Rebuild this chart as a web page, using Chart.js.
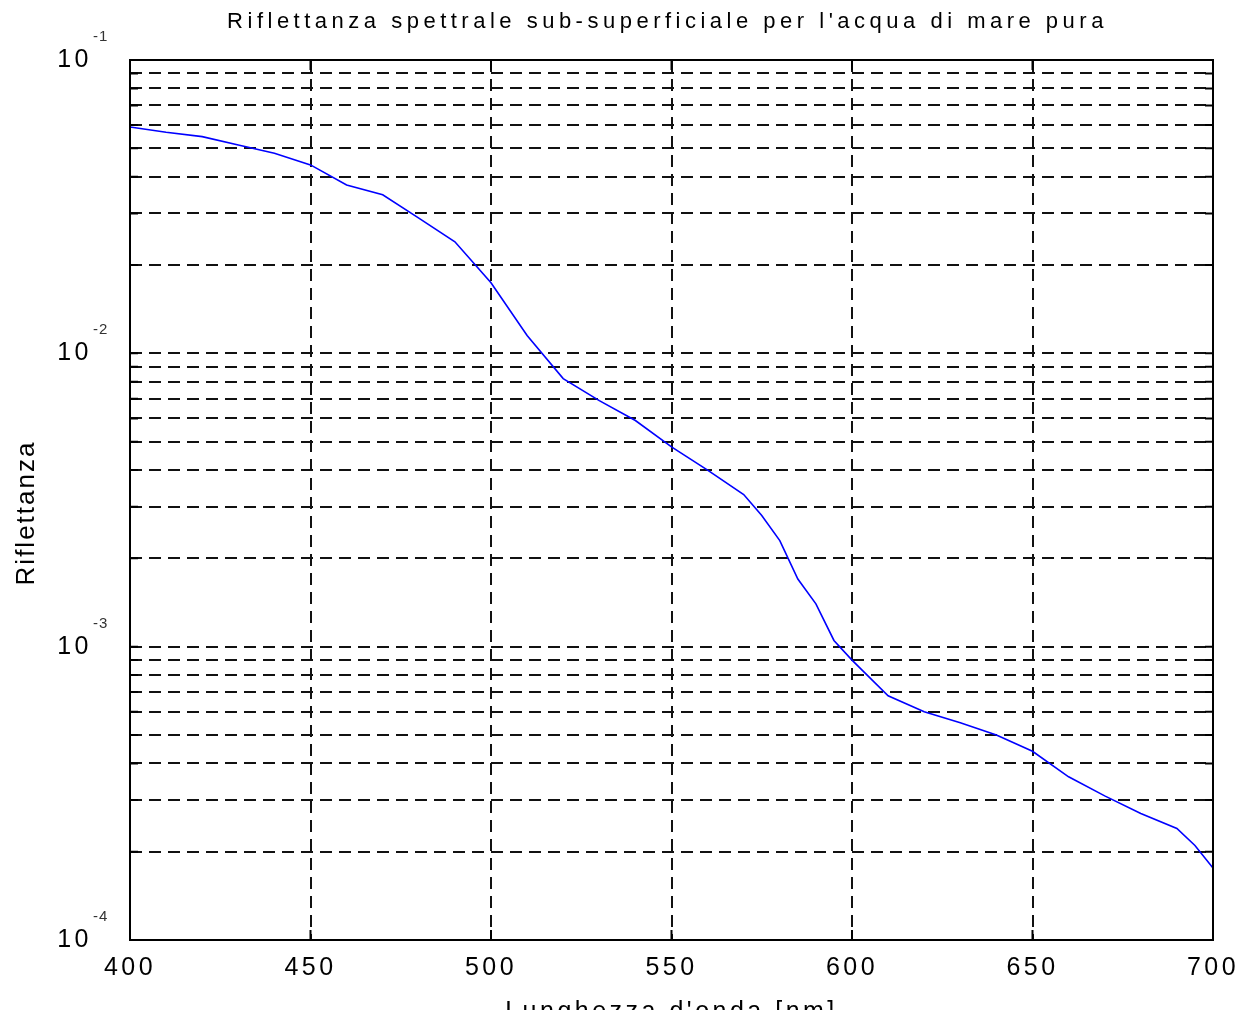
<!DOCTYPE html>
<html lang="it">
  <head>
    <meta charset="UTF-8" />
    <title>Riflettanza spettrale</title>
    <script src="https://cdn.jsdelivr.net/npm/chart.js"></script>
    <style>
      html, body {
        margin: 0;
        padding: 0;
        background: #fff;
        overflow: hidden;
      }
      .wrap {
        position: relative;
        width: 1240px;
        height: 1040px;
      }
    </style>
  </head>
  <body>
    <div class="wrap">
      <canvas id="chart"></canvas>
    </div>

    <script>
      // wavelength [nm] and sub-surface reflectance
      const wavelengths = [
        400, 410, 420, 430, 440, 450, 460, 470, 480, 490, 500, 510, 520, 530,
        540, 550, 560, 570, 575, 580, 585, 590, 595, 600, 610, 620, 630, 640,
        650, 660, 670, 680, 690, 695, 700,
      ];
      const reflectance = [
        0.0591, 0.0567, 0.0548, 0.0513, 0.0481, 0.0439, 0.0375, 0.0347, 0.0289,
        0.024, 0.0174, 0.0115, 0.0082, 0.0069, 0.0059, 0.0048, 0.004, 0.0033,
        0.0028, 0.0023, 0.0017, 0.0014, 0.00105, 0.0009, 0.00068, 0.0006,
        0.00055, 0.0005, 0.00044, 0.00036, 0.00031, 0.00027, 0.00024, 0.00021,
        0.000176,
      ];
      const xTicks = [400, 450, 500, 550, 600, 650, 700];
      const yDecades = [1e-1, 1e-2, 1e-3, 1e-4];
      const yExponents = ["-1", "-2", "-3", "-4"];
      // every minor log step gets a dashed line
      const yGrid = [];
      [1e-4, 1e-3, 1e-2].forEach((d) => {
        for (let m = 1; m < 10; m++) yGrid.push(+(m * d).toPrecision(3));
      });
      yGrid.push(1e-1);

      const titleText = "Riflettanza spettrale sub-superficiale per l'acqua di mare pura";
      const yTitleText = "Riflettanza";

      const LS = "3.5px";
      const FONT = "Liberation Sans, Arial, sans-serif";

      const matlabLook = {
        id: "matlabLook",
        beforeLayout(chart) {
          chart.ctx.letterSpacing = LS;
        },
        beforeDraw(chart) {
          chart.ctx.letterSpacing = LS;
        },
        afterDraw(chart) {
          const ctx = chart.ctx;
          const { left, right, top, bottom } = chart.chartArea;
          const xs = chart.scales.x;
          const ys = chart.scales.y;
          ctx.save();
          ctx.strokeStyle = "#000";
          ctx.lineWidth = 2;
          ctx.setLineDash([]);
          ctx.strokeRect(left, top, right - left, bottom - top);

          // inward tick marks on all four sides
          ctx.lineWidth = 2;
          ctx.beginPath();
          xTicks.forEach((v) => {
            const px = xs.getPixelForValue(v);
            ctx.moveTo(px, bottom);
            ctx.lineTo(px, bottom - 10);
            ctx.moveTo(px, top);
            ctx.lineTo(px, top + 10);
          });
          yGrid.forEach((v) => {
            const py = ys.getPixelForValue(v);
            ctx.moveTo(left, py);
            ctx.lineTo(left + 8, py);
            ctx.moveTo(right, py);
            ctx.lineTo(right - 8, py);
          });
          ctx.stroke();

          ctx.fillStyle = "#000";
          ctx.textBaseline = "middle";

          // title, centred over the plot box
          ctx.letterSpacing = "4.5px";
          ctx.font = "22px " + FONT;
          ctx.textAlign = "center";
          ctx.fillText(titleText, (left + right) / 2 - 4, 22);

          // y axis title
          ctx.save();
          ctx.translate(27, (top + bottom) / 2 + 13);
          ctx.rotate(-Math.PI / 2);
          ctx.letterSpacing = "2px";
          ctx.font = "26px " + FONT;
          ctx.fillText(yTitleText, 0, 0);
          ctx.restore();

          // 10^k labels
          yDecades.forEach((v, i) => {
            const py = ys.getPixelForValue(v);
            ctx.letterSpacing = LS;
            ctx.font = "25px " + FONT;
            ctx.textAlign = "right";
            ctx.fillStyle = "#000";
            ctx.fillText("10", 92, py);
            ctx.letterSpacing = "1px";
            ctx.font = "15px " + FONT;
            ctx.textAlign = "left";
            ctx.fillStyle = "#333";
            ctx.fillText(yExponents[i], 93, py - 23);
          });
          ctx.restore();
        },
      };

      new Chart(document.getElementById("chart"), {
        type: "line",
        data: {
          labels: wavelengths,
          datasets: [
            {
              data: wavelengths.map((w, i) => ({ x: w, y: reflectance[i] })),
              borderColor: "#0000ff",
              borderWidth: 1.6,
              pointRadius: 0,
              tension: 0,
              fill: false,
            },
          ],
        },
        options: {
          responsive: true,
          maintainAspectRatio: false,
          animation: false,
          layout: {
            padding: { left: 0, right: 27, top: 60, bottom: 0 },
          },
          plugins: {
            legend: { display: false },
            tooltip: { enabled: false },
            title: { display: false },
          },
          scales: {
            x: {
              type: "linear",
              min: 400,
              max: 700,
              afterBuildTicks: (s) => {
                s.ticks = xTicks.map((v) => ({ value: v }));
              },
              afterFit: (s) => {
                s.height = 100;
                s.paddingLeft = 0;
                s.paddingRight = 0;
              },
              ticks: {
                color: "#000",
                font: { family: FONT, size: 25 },
                padding: 13,
                maxRotation: 0,
                autoSkip: false,
              },
              grid: {
                color: "#111",
                lineWidth: 2,
                drawTicks: false,
              },
              border: { display: false, dash: [12, 7] },
              title: {
                display: true,
                text: "Lunghezza d'onda [nm]",
                color: "#000",
                font: { family: FONT, size: 25 },
                padding: { top: 0, bottom: 13 },
              },
            },
            y: {
              type: "logarithmic",
              min: 1e-4,
              max: 1e-1,
              afterBuildTicks: (s) => {
                s.ticks = yGrid.map((v) => ({ value: v }));
              },
              afterFit: (s) => {
                s.width = 130;
                s.paddingTop = 0;
                s.paddingBottom = 0;
              },
              ticks: { display: false },
              grid: {
                color: "#111",
                lineWidth: 2,
                drawTicks: false,
              },
              border: { display: false, dash: [12, 7] },
              title: { display: false },
            },
          },
        },
        plugins: [matlabLook],
      });
    </script>
  </body>
</html>
